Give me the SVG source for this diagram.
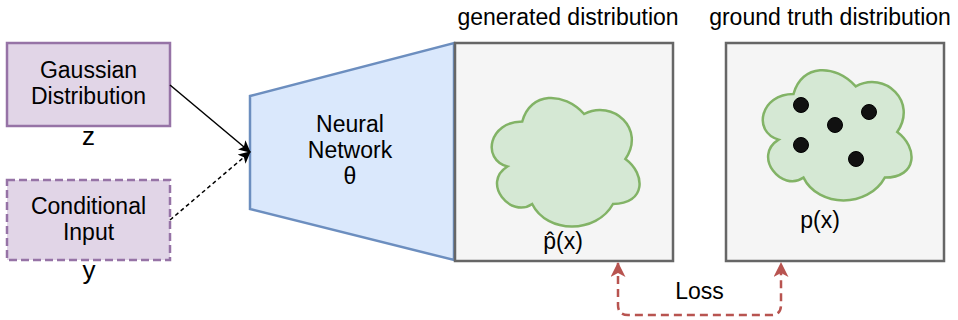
<svg xmlns="http://www.w3.org/2000/svg" width="958" height="320" viewBox="0 0 958 320">
<defs>
<style>
text{font-family:"Liberation Sans",Arial,Helvetica,sans-serif;font-size:23px;fill:#000;text-anchor:middle}
.purple{fill:#e1d5e7;stroke:#9673a6;stroke-width:2.5}
.dash{stroke-dasharray:8 4}
.panel{fill:#f5f5f5;stroke:#666666;stroke-width:2.5}
.cloud{fill:#d5e8d4;stroke:#82b366;stroke-width:2.5}
.dot{fill:#111111;stroke:#000;stroke-width:1}
.big{font-size:26px}
</style>
<marker id="ah" viewBox="0 0 12 12" markerWidth="12" markerHeight="12" refX="11" refY="6" orient="auto" markerUnits="userSpaceOnUse">
<path d="M0,0 L12,6 L0,12 L3,6 Z" fill="#000"/>
</marker>
<marker id="ahr" viewBox="0 0 15 15" markerWidth="15" markerHeight="15" refX="14" refY="7.5" orient="auto-start-reverse" markerUnits="userSpaceOnUse">
<path d="M0,0 L15,7.5 L0,15 L4,7.5 Z" fill="#b85450"/>
</marker>
</defs>

<g id="gaussian">
<rect class="purple" x="7" y="43" width="163" height="83"/>
<text x="88.5" y="78">Gaussian</text>
<text x="88.5" y="104">Distribution</text>
<text class="big" x="88.5" y="145">z</text>
</g>

<g id="conditional">
<rect class="purple dash" x="7" y="180" width="163" height="80"/>
<text x="88.5" y="214">Conditional</text>
<text x="88.5" y="240">Input</text>
<text class="big" x="89" y="279">y</text>
</g>

<g id="network">
<polygon points="250,96 454,43 454,260 250,209" fill="#dae8fc" stroke="#6c8ebf" stroke-width="2.5"/>
<text x="350" y="132">Neural</text>
<text x="350" y="158">Network</text>
<text x="350" y="184">θ</text>
</g>

<g id="generated">
<text x="568" y="25">generated distribution</text>
<rect class="panel" x="455" y="43" width="218" height="218"/>
<path class="cloud" d="M522.25,121.5 C489.25,121.5 481,159 507.4,166.5 C481,183 510.7,219 532.15,204 C547,234 596.5,234 613,204 C646,204 646,174 625.4,159 C646,129 613,99 584.1,114 C563.5,91.5 530.5,91.5 522.25,121.5 Z"/>
<text x="563" y="249">p̂(x)</text>
</g>

<g id="groundtruth">
<text x="830" y="25">ground truth distribution</text>
<rect class="panel" x="726" y="43" width="218" height="218"/>
<path class="cloud" d="M793.5,94 C760.3,94 752,132 778.56,139.6 C752,156.3 781.9,192.8 803.5,177.6 C818.4,208 868.2,208 884.8,177.6 C918,177.6 918,147.2 897.25,132 C918,101.6 884.8,70.4 855.75,86.4 C835,63.6 801.8,63.6 793.5,94 Z"/>
<circle class="dot" cx="801" cy="105" r="7.5"/>
<circle class="dot" cx="869" cy="112" r="7.5"/>
<circle class="dot" cx="835" cy="125" r="7.5"/>
<circle class="dot" cx="801" cy="145" r="7.5"/>
<circle class="dot" cx="856" cy="159" r="7.5"/>
<text x="820" y="228">p(x)</text>
</g>

<g id="connectors" fill="none">
<line x1="170" y1="85" x2="250" y2="152" stroke="#000" stroke-width="1.5" marker-end="url(#ah)"/>
<line x1="170" y1="220" x2="250" y2="152" stroke="#000" stroke-width="1.5" stroke-dasharray="4 3" marker-end="url(#ah)"/>
<path d="M618,263 L618,305 Q618,315 628,315 L771,315 Q781,315 781,305 L781,263" stroke="#b85450" stroke-width="2.5" stroke-dasharray="8 5" marker-start="url(#ahr)" marker-end="url(#ahr)"/>
<text x="699.5" y="299" stroke="none">Loss</text>
</g>
</svg>
